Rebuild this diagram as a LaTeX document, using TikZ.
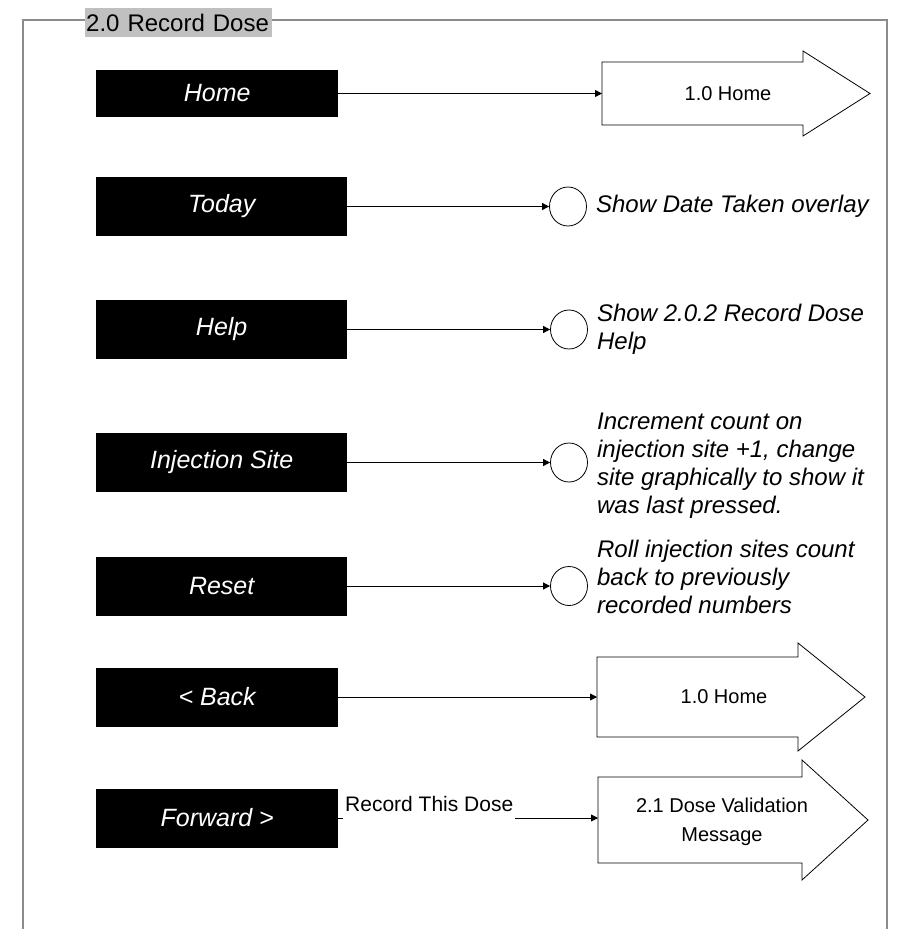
\documentclass[tikz,border=0pt]{standalone}
\usepackage{fontspec}
\setmainfont{Liberation Sans}
\usepackage{tikz}
\usetikzlibrary{arrows.meta,positioning,shapes.geometric}
\definecolor{frameGray}{RGB}{140,140,140}
\definecolor{tabGray}{RGB}{192,192,192}

\begin{document}
\begin{tikzpicture}[x=1pt,y=-1pt,
    button/.style={fill=black,text=white,font=\fontsize{25}{28}\selectfont\itshape,
      minimum width=251pt,minimum height=59pt,inner sep=0pt,anchor=west},
    action/.style={ellipse,draw,line width=0.8pt,minimum width=37pt,minimum height=39pt,inner sep=0pt},
    note/.style={font=\fontsize{24}{28}\selectfont\itshape,align=left,inner sep=0pt},
    target/.style={font=\fontsize{20}{29}\selectfont,align=center},
    outline/.style={draw,line width=0.8pt,line join=miter},
    link/.style={-{Triangle[length=7pt,width=7pt]},line width=0.8pt}]
  \useasboundingbox (0,0) rectangle (902,929);
  % Frame and title tab
  \draw[frameGray,line width=1.3pt] (23,929) -- (23,20) -- (887,20) -- (887,929);
  \node[fill=tabGray,anchor=north west,minimum width=187pt,minimum height=29pt,
        inner sep=1pt,text width=185pt,align=left,font=\fontsize{24}{28}\selectfont]
        (title) at (85,8) {2.0 Record Dose};
  % Buttons
  \node[button,minimum width=242pt,minimum height=47pt] (home) at (96,93.5) {Home};
  \node[button] (today) at (96,206.5) {Today};
  \node[button] (help) at (96,329.5) {Help};
  \node[button] (site) at (96,462.5) {Injection Site};
  \node[button] (reset) at (96,586) {Reset};
  \node[button,minimum width=242pt] (back) at (96,697) {< Back};
  \node[button,minimum width=242pt] (fwd) at (96,818) {Forward >};
  % In-page actions
  \node[action] (todayC) at (568,206.5) {};
  \node[action] (helpC) at (569,329.5) {};
  \node[action] (siteC) at (569,462.5) {};
  \node[action] (resetC) at (569,586) {};
  \node[note,right=9pt of todayC] (todayN) {Show Date Taken overlay};
  \node[note,right=9pt of helpC] (helpN) {Show 2.0.2 Record Dose\\Help};
  \node[note,right=9pt of siteC,yshift=-3pt] (siteN) {Increment count on\\injection site +1, change\\site graphically to show it\\was last pressed.};
  \node[note,right=9pt of resetC,yshift=9pt] (resetN) {Roll injection sites count\\back to previously\\recorded numbers};
  % Off-page targets
  \draw[outline] (602,62) -- (803,62) -- (803,51) -- (870,93.5) -- (803,136) -- (803,125) -- (602,125) -- cycle;
  \node[target] (homeT) at (728,93.5) {1.0 Home};
  \coordinate (homeIn) at (602,93.5);
  \draw[outline] (597,657) -- (798,657) -- (798,643) -- (865,697) -- (798,751) -- (798,737) -- (597,737) -- cycle;
  \node[target] (backT) at (724,697) {1.0 Home};
  \coordinate (backIn) at (597,697);
  \draw[outline] (598,777) -- (802,777) -- (802,760) -- (868,820) -- (802,880) -- (802,863) -- (598,863) -- cycle;
  \node[target] (fwdT) at (722,822) {2.1 Dose Validation\\Message};
  \coordinate (fwdIn) at (598,818);
  % Connectors
  \draw[link] (home) -- (homeIn);
  \draw[link] (today) -- (todayC);
  \draw[link] (help) -- (helpC);
  \draw[link] (site) -- (siteC);
  \draw[link] (reset) -- (resetC);
  \draw[link] (back) -- (backIn);
  \draw[link] (fwd) -- (fwdIn);
  \node[fill=white,anchor=base west,inner xsep=2pt,inner ysep=9pt,
        font=\fontsize{21}{24}\selectfont] (doseL) at (343,811) {Record This Dose};
\end{tikzpicture}
\end{document}
